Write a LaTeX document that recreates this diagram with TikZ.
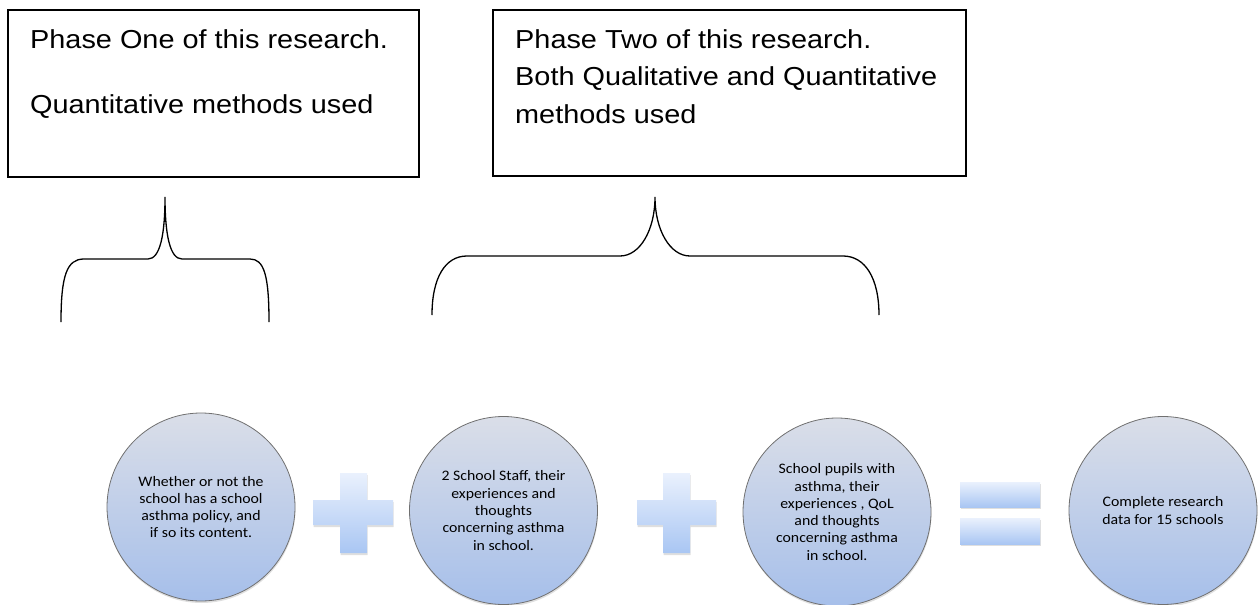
\documentclass[tikz,border=0pt]{standalone}
\usepackage{fontspec}
\usetikzlibrary{shadows}
\newfontfamily\boxfont[FakeStretch=1.11]{Liberation Sans}
\newfontfamily\circfont[FakeStretch=1.09]{Carlito}
\definecolor{circtop}{HTML}{DADEE8}
\definecolor{circbot}{HTML}{A6BFEA}
\definecolor{circline}{HTML}{707070}
\definecolor{signtop}{HTML}{EAF1FD}
\definecolor{signbot}{HTML}{A9C6F3}
\tikzset{
  phasebox/.style={draw=black, line width=1.3pt, fill=white},
  boxtext/.style={anchor=base west, inner sep=0pt, font=\boxfont\fontsize{26}{30}\selectfont},
  brace/.style={draw=black, line width=1.3pt},
  stage/.style={circle, draw=circline, line width=0.8pt, minimum size=188pt, inner sep=0pt,
    top color=circtop, bottom color=circbot, align=center,
    font=\circfont\fontsize{14.5}{17.3}\selectfont,
    drop shadow={opacity=0.25, shadow xshift=0.5pt, shadow yshift=-2pt}},
  sign/.style={top color=signtop, bottom color=signbot,
    drop shadow={opacity=0.25, shadow xshift=0.5pt, shadow yshift=-2pt}},
}
\begin{document}
\begin{tikzpicture}[x=1pt, y=-1pt]
\useasboundingbox (0,0) rectangle (1259,605);
% phase boxes
\draw[phasebox] (8,10) rectangle (419,177);
\coordinate (b1) at (213.5,93.5);
\node[boxtext] (t1a) at (30,48) {Phase One of this research.};
\node[boxtext] (t1b) at (30,113) {Quantitative methods used};
\draw[phasebox] (493,10) rectangle (966,176);
\coordinate (b2) at (729.5,93);
\node[boxtext] (t2a) at (515,48) {Phase Two of this research.};
\node[boxtext] (t2b) at (515,85.5) {Both Qualitative and Quantitative};
\node[boxtext] (t2c) at (515,123) {methods used};
% braces
\coordinate (tip1) at (165,197);
\coordinate (tip2) at (655,197);
\draw[brace] (61,322) .. controls (61,275) and (67,259) .. (84,259) -- (148,259)
  .. controls (160,259) and (165,235) .. (tip1)
  .. controls (165,235) and (170,259) .. (182,259) -- (250,259)
  .. controls (264,259) and (269,275) .. (269,322);
\draw[brace] (432,315) .. controls (432,278) and (445,256) .. (467,256) -- (620,256)
  .. controls (640,256) and (655,230) .. (tip2)
  .. controls (655,230) and (670,256) .. (690,256) -- (843,256)
  .. controls (865,256) and (879,278) .. (879,315);
% circles
\node[stage] (c1) at (201,507) {Whether or not the\\school has a school\\asthma policy, and\\if so its content.};
\node[stage] (c2) at (503.5,510.5) {2 School Staff, their\\experiences and\\thoughts\\concerning asthma\\in school.};
\node[stage] (c3) at (837,512) {School pupils with\\asthma, their\\experiences , QoL\\and thoughts\\concerning asthma\\in school.};
\node[stage] (c4) at (1163,510.5) {Complete research\\data for 15 schools};
% plus signs
\path[sign] (340,473) -- (367,473) -- (367,500) -- (393,500) -- (393,525) -- (367,525)
  -- (367,553) -- (340,553) -- (340,525) -- (313,525) -- (313,500) -- (340,500) -- cycle;
\path[sign] (663,473) -- (690,473) -- (690,500) -- (716,500) -- (716,525) -- (690,525)
  -- (690,553) -- (663,553) -- (663,525) -- (637,525) -- (637,500) -- (663,500) -- cycle;
% equals sign
\path[sign] (960,482) rectangle (1040,507);
\path[sign] (960,518) rectangle (1040,544);
\end{tikzpicture}
\end{document}
